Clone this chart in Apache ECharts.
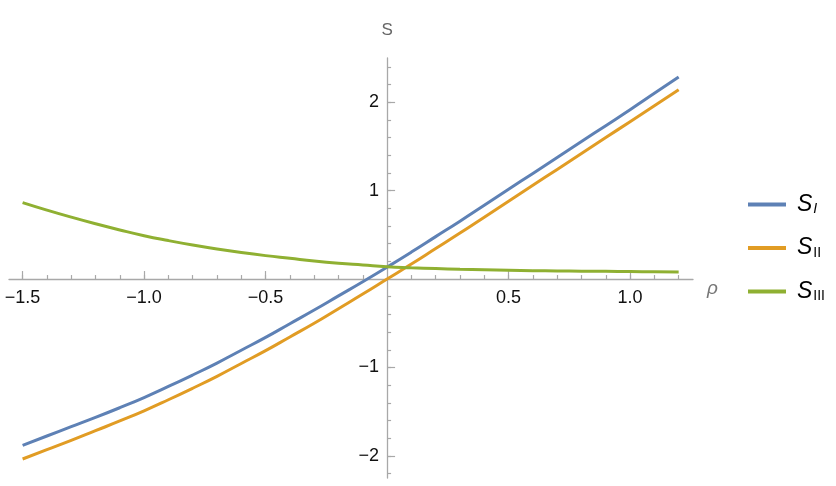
<!DOCTYPE html>
<html>
<head>
<meta charset="utf-8">
<script src="https://cdn.jsdelivr.net/npm/echarts@6/dist/echarts.min.js"></script>
<style>
  html, body { margin: 0; padding: 0; background: #fff; }
  #chart { width: 836px; height: 486px; }
</style>
</head>
<body>
<div id="chart"></div>
<script>
// values, rho step 0.1
var rhoValues = [-1.5, -1.4, -1.3, -1.2, -1.1, -1.0, -0.9, -0.8, -0.7, -0.6, -0.5, -0.4, -0.3, -0.2, -0.1,
                 0.0, 0.1, 0.2, 0.3, 0.4, 0.5, 0.6, 0.7, 0.8, 0.9, 1.0, 1.1, 1.2];
var sI = [-1.88, -1.775, -1.67, -1.565, -1.455, -1.34, -1.215, -1.085, -0.95, -0.805, -0.66, -0.505, -0.35, -0.19, -0.03,
          0.135, 0.305, 0.48, 0.655, 0.835, 1.015, 1.195, 1.375, 1.555, 1.735, 1.915, 2.1, 2.285];
var sII = [-2.035, -1.93, -1.825, -1.715, -1.605, -1.49, -1.365, -1.235, -1.1, -0.955, -0.81, -0.655, -0.5, -0.335, -0.17,
           0.0, 0.17, 0.345, 0.52, 0.7, 0.88, 1.06, 1.24, 1.42, 1.6, 1.78, 1.96, 2.14];
var sIII = [0.865, 0.78, 0.70, 0.625, 0.555, 0.49, 0.435, 0.385, 0.34, 0.30, 0.265, 0.235, 0.205, 0.18, 0.16,
            0.14, 0.128, 0.118, 0.11, 0.104, 0.099, 0.095, 0.092, 0.089, 0.087, 0.085, 0.083, 0.081];

var seriesNames = ['S_I', 'S_II', 'S_III'];
var seriesColors = ['#5E81B5', '#E19C24', '#8FB032'];

// ticks
var xMajorTicks = [-1.5, -1.0, -0.5, 0.5, 1.0];
var xMinorTicks = [-1.5, -1.4, -1.3, -1.2, -1.1, -1.0, -0.9, -0.8, -0.7, -0.6, -0.5, -0.4, -0.3, -0.2, -0.1,
                   0.1, 0.2, 0.3, 0.4, 0.5, 0.6, 0.7, 0.8, 0.9, 1.0, 1.1, 1.2];
var yMajorTicks = [-2, -1, 1, 2];
var yMinorTicks = [-2.2, -2.0, -1.8, -1.6, -1.4, -1.2, -1.0, -0.8, -0.6, -0.4, -0.2,
                   0.2, 0.4, 0.6, 0.8, 1.0, 1.2, 1.4, 1.6, 1.8, 2.0, 2.2, 2.4];

var axisGray = '#a8a8a8';
var labelFont = '"Liberation Sans", Arial, sans-serif';

function pairs(xs, ys) {
  var out = [];
  for (var i = 0; i < xs.length; i++) out.push([xs[i], ys[i]]);
  return out;
}
function minus(s) { return String(s).replace('-', '\u2212'); }

var subText = { S_I: 'I', S_II: 'II', S_III: 'III' };

var myChart = echarts.init(document.getElementById('chart'));

var plot = { left: 9, top: 58, width: 684, height: 420 };
var xRange = { min: -1.556, max: 1.259 };
var yRange = { min: -2.25, max: 2.5 };
// axes cross at the origin: shift them from the grid edges onto zero
var xAxisShift = -plot.height * (0 - yRange.min) / (yRange.max - yRange.min);
var yAxisShift = -plot.width * (0 - xRange.min) / (xRange.max - xRange.min);

function xAxisCfg(major) {
  return {
    type: 'value', position: 'bottom', offset: xAxisShift, min: xRange.min, max: xRange.max,
    name: major ? '\u03C1' : '', nameLocation: 'end', nameGap: 14,
    nameTextStyle: { fontFamily: labelFont, fontStyle: 'italic', fontSize: 19, color: '#777', verticalAlign: 'top', padding: [0, 0, 0, 0] },
    axisLine: { show: major, onZero: false, lineStyle: { color: axisGray, width: 1.3 } },
    axisTick: { inside: true, length: major ? 8 : 4, customValues: major ? xMajorTicks : xMinorTicks,
                lineStyle: { color: axisGray, width: 1.2 } },
    axisLabel: {
      show: major, customValues: xMajorTicks, margin: 10, fontFamily: labelFont, fontSize: 18, color: '#111',
      formatter: function (v) { return minus(v.toFixed(1)); }
    },
    splitLine: { show: false }
  };
}
function yAxisCfg(major) {
  return {
    type: 'value', position: 'left', offset: yAxisShift, min: yRange.min, max: yRange.max,
    name: major ? 'S' : '', nameLocation: 'end', nameGap: 19,
    nameTextStyle: { fontFamily: labelFont, fontSize: 17, color: '#666' },
    axisLine: { show: major, onZero: false, lineStyle: { color: axisGray, width: 1.3 } },
    axisTick: { inside: true, length: major ? 8 : 4, customValues: major ? yMajorTicks : yMinorTicks,
                lineStyle: { color: axisGray, width: 1.2 } },
    axisLabel: {
      show: major, customValues: yMajorTicks, margin: 8, fontFamily: labelFont, fontSize: 18, color: '#111',
      formatter: function (v) { return minus(v); }
    },
    splitLine: { show: false }
  };
}

var option = {
  backgroundColor: '#fff',
  animation: false,
  grid: { left: plot.left, top: plot.top, width: plot.width, height: plot.height,
          containLabel: false, outerBoundsMode: 'none' },
  legend: {
    orient: 'vertical',
    left: 743,
    top: 188,
    itemWidth: 38,
    itemHeight: 4,
    itemGap: 20,
    icon: 'rect',
    data: seriesNames,
    formatter: function (name) {
      return '{s|S}{' + (name === 'S_I' ? 'subi' : 'sub') + '|' + subText[name] + '}';
    },
    textStyle: {
      padding: [0, 0, 0, 6],
      rich: {
        s: { fontFamily: labelFont, fontStyle: 'italic', fontSize: 23, color: '#000', lineHeight: 26 },
        sub: { fontFamily: labelFont, fontSize: 14, color: '#000', padding: [10, 0, 0, 1] },
        subi: { fontFamily: labelFont, fontStyle: 'italic', fontSize: 14, color: '#000', padding: [10, 0, 0, 1] }
      }
    }
  },
  xAxis: [xAxisCfg(true), xAxisCfg(false)],
  yAxis: [yAxisCfg(true), yAxisCfg(false)],
  series: [
    { name: 'S_I', type: 'line', data: pairs(rhoValues, sI) },
    { name: 'S_II', type: 'line', data: pairs(rhoValues, sII) },
    { name: 'S_III', type: 'line', data: pairs(rhoValues, sIII) }
  ].map(function (s, i) {
    s.xAxisIndex = 0;
    s.yAxisIndex = 0;
    s.smooth = 0.5;
    s.showSymbol = false;
    s.symbol = 'none';
    s.color = seriesColors[i];
    s.lineStyle = { color: seriesColors[i], width: 3 };
    return s;
  })
};

myChart.setOption(option, true);
</script>
</body>
</html>
